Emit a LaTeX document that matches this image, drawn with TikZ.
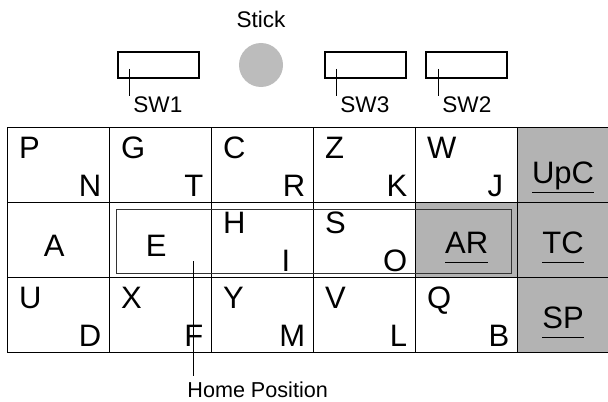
\documentclass[tikz,border=0pt]{standalone}
\usepackage{fontspec}
\setmainfont{Liberation Sans}
\usetikzlibrary{matrix, positioning}

\definecolor{keygray}{RGB}{179,179,179}
\definecolor{stickgray}{RGB}{188,188,188}
\newcommand\fnul[1]{\underline{#1\vphantom{p}}}

\begin{document}
\begin{tikzpicture}[x=0.5pt, y=-0.5pt,
  key/.style={draw, line width=0.6pt, minimum width=51pt, minimum height=37.5pt, inner sep=0pt, outer sep=0pt},
  arkey/.style={key, fill=keygray},
  fnkey/.style={key, fill=keygray, minimum width=45.5pt},
  tl/.style={anchor=base west, inner sep=0pt, xshift=5.5pt, yshift=-15.5pt, font=\fontsize{15.5}{18}\selectfont},
  br/.style={anchor=base east, inner sep=0pt, xshift=-4pt, yshift=3pt, font=\fontsize{15.5}{18}\selectfont},
  mid/.style={anchor=base, inner sep=0pt, xshift=-2.25pt, yshift=-8.25pt, font=\fontsize{15.5}{18}\selectfont},
  fn/.style={anchor=base, inner sep=0pt, yshift=-6.75pt, font=\fontsize{15.5}{18}\selectfont},
  lbl/.style={inner sep=0pt, font=\fontsize{11.3}{13}\selectfont},
  swbox/.style={draw, line width=0.6pt, minimum width=40.5pt, minimum height=13pt, inner sep=0pt},
  leader/.style={line width=0.5pt}]
\useasboundingbox (0,0) rectangle (608,401);

% switches and stick
\node[swbox] (sw1) at (158.5,65) {};
\node[swbox] (sw3) at (365.5,65) {};
\node[swbox] (sw2) at (466.5,65) {};
\node[circle, fill=stickgray, minimum size=22pt, inner sep=0pt] (stick) at (261,65) {};
\node[lbl, above=7pt of stick] (sticklbl) {Stick};
\node[lbl, anchor=base west] (sw1lbl) at (133,112) {SW1};
\node[lbl, anchor=base west] (sw3lbl) at (340,112) {SW3};
\node[lbl, anchor=base west] (sw2lbl) at (442,112) {SW2};
\coordinate (sw1pin) at (129,69);
\coordinate (sw3pin) at (336,69);
\coordinate (sw2pin) at (438,69);
\draw[leader] (sw1pin) -- (sw1pin |- sw1lbl.north);
\draw[leader] (sw3pin) -- (sw3pin |- sw3lbl.north);
\draw[leader] (sw2pin) -- (sw2pin |- sw2lbl.north);

% keyboard
\matrix (kb) [matrix of nodes, nodes in empty cells, nodes={key}, column sep=-0.6pt, row sep=-0.6pt,
  anchor=north west, inner sep=0pt, outer sep=0pt] at (7,127) {
 & & & & & |[fnkey]| \\
 & & & & |[arkey]| & |[fnkey]| \\
 & & & & & |[fnkey]| \\
};
\node[draw=black!80, line width=0.6pt, minimum width=197.5pt, minimum height=32pt, inner sep=0pt,
  anchor=north west, xshift=3pt, yshift=-3pt] (home) at (kb-2-2.north west) {};

\node[tl] (kP) at (kb-1-1.north west) {P};
\node[br] (kN) at (kb-1-1.south east) {N};
\node[tl] (kG) at (kb-1-2.north west) {G};
\node[br] (kT) at (kb-1-2.south east) {T};
\node[tl] (kC) at (kb-1-3.north west) {C};
\node[br] (kR) at (kb-1-3.south east) {R};
\node[tl] (kZ) at (kb-1-4.north west) {Z};
\node[br] (kK) at (kb-1-4.south east) {K};
\node[tl] (kW) at (kb-1-5.north west) {W};
\node[br, xshift=-3pt] (kJ) at (kb-1-5.south east) {J};
\node[fn, yshift=-2.25pt] (kUpC) at (kb-1-6.center) {\fnul{UpC}};

\node[mid] (kA) at (kb-2-1.center) {A};
\node[mid] (kE) at (kb-2-2.center) {E};
\node[tl] (kH) at (kb-2-3.north west) {H};
\node[br, xshift=-7.5pt] (kI) at (kb-2-3.south east) {I};
\node[tl] (kS) at (kb-2-4.north west) {S};
\node[br] (kO) at (kb-2-4.south east) {O};
\node[fn] (kAR) at (kb-2-5.center) {\fnul{AR}};
\node[fn] (kTC) at (kb-2-6.center) {\fnul{TC}};

\node[tl] (kU) at (kb-3-1.north west) {U};
\node[br] (kD) at (kb-3-1.south east) {D};
\node[tl] (kX) at (kb-3-2.north west) {X};
\node[br] (kF) at (kb-3-2.south east) {F};
\node[tl] (kY) at (kb-3-3.north west) {Y};
\node[br] (kM) at (kb-3-3.south east) {M};
\node[tl] (kV) at (kb-3-4.north west) {V};
\node[br] (kL) at (kb-3-4.south east) {L};
\node[tl] (kQ) at (kb-3-5.north west) {Q};
\node[br] (kB) at (kb-3-5.south east) {B};
\node[fn] (kSP) at (kb-3-6.center) {\fnul{SP}};

% home position
\node[lbl, font=\fontsize{10.8}{13}\selectfont, anchor=base west, inner ysep=2.5pt] (homelbl) at (187,397) {Home Position};
\coordinate (homepin) at (193,261);
\draw[leader] (homepin) -- (homepin |- homelbl.north);
\end{tikzpicture}
\end{document}
